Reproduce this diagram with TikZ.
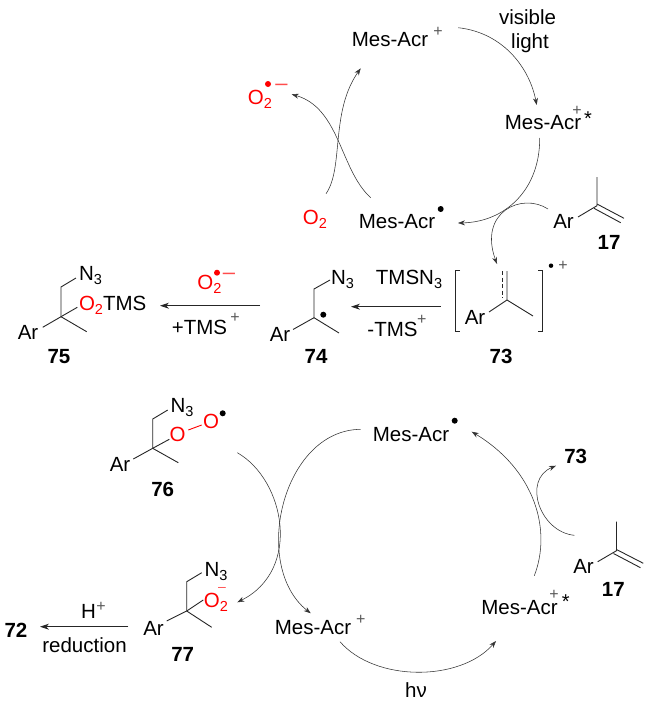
\documentclass[tikz,border=0pt]{standalone}
\usepackage{fontspec}
\setmainfont{Liberation Sans}
\usetikzlibrary{arrows.meta}
\newcommand{\subnum}[1]{\raisebox{-4.5pt}{\fontsize{14.5}{14.5}\selectfont #1}}
\tikzset{
  lbl/.style={inner sep=0pt,outer sep=0pt,text height=14.5pt,text depth=0pt,font=\fontsize{20.5}{24}\selectfont},
  redlbl/.style={lbl,text=red},
  num/.style={lbl,font=\fontsize{20.5}{24}\selectfont\bfseries},
  plusmark/.style={inner sep=0pt,outer sep=0pt,text=black!65,font=\fontsize{16}{16}\selectfont},
  starmark/.style={inner sep=0pt,outer sep=0pt,font=\fontsize{20}{20}\selectfont},
  minusmark/.style={inner sep=0pt,outer sep=0pt,text=red!70,font=\fontsize{22}{22}\selectfont},
  raddot/.style={circle,fill=black,inner sep=0pt,minimum size=6pt},
  bond/.style={draw=black!85,line width=0.9pt},
  redbond/.style={draw=red,line width=0.9pt},
  arc/.style={draw=black!80,line width=0.55pt,-{Stealth[length=7pt,width=5pt]}},
  react/.style={draw=black!85,line width=0.8pt,-{Stealth[length=9pt,width=6pt]}}
}
\begin{document}
\begin{tikzpicture}[x=1pt,y=-1pt]
\useasboundingbox (0,0) rectangle (650,704);
% ---------- top cycle labels
\node[lbl] (mesA) at (390,39) {Mes-Acr};
\node[plusmark] (mesAp) at (438,32) {+};
\node[lbl] (vis) at (527.5,17) {visible};
\node[lbl] (lgt) at (530,41) {light};
\node[lbl] (mesB) at (543,122) {Mes-Acr};
\node[plusmark] (mesBp) at (577,111) {+};
\node[starmark] (mesBs) at (588,119) {*};
\node[lbl] (mesC) at (397,221) {Mes-Acr};
\node[raddot] (mesCd) at (440.7,209) {};
\node[redlbl] (o2a) at (315,217) {O\subnum{2}};
\node[redlbl] (o2b) at (260,97) {O\subnum{2}};
\node[raddot,fill=red] (o2bd) at (268,84) {};
\node[minusmark] (o2bm) at (281.5,87) {–};
% top cycle coordinates
\coordinate (a1) at (458.3,27.7);
\coordinate (a2) at (536.7,105);
\coordinate (b1) at (539.7,138);
\coordinate (b2) at (458,223);
\coordinate (c1) at (370.7,197.7);
\coordinate (c2) at (291.7,94.3);
\coordinate (d1) at (326,193.7);
\coordinate (d2) at (360.7,68.3);
\coordinate (e1) at (548,209);
\coordinate (e2) at (497,264);
\path[arc] (a1) .. controls (505,33) and (530,70) .. (a2);
\path[arc] (b1) .. controls (540,190) and (505,222) .. (b2);
\path[arc] (c1) .. controls (340,170) and (340,108) .. (c2);
\path[arc] (d1) .. controls (344,168) and (330,112) .. (d2);
\path[arc] (e1) .. controls (522,192) and (478,212) .. (e2);
% 17 (top)
\node[lbl] (ar17a) at (563.5,221) {Ar};
\node[num] (n17a) at (609,242) {17};
\coordinate (t1) at (578,217);
\coordinate (t2) at (597,205.7);
\coordinate (t3) at (597,177);
\coordinate (t4) at (624,218.3);
\coordinate (t5) at (594,208.3);
\coordinate (t6) at (620.7,222.7);
\coordinate (t7) at (597,204);
\path[bond] (t1) -- (t2) -- (t3);
\path[bond] (t7) -- (t4);
\path[bond] (t5) -- (t6);
% 73
\coordinate (bl1) at (460,270);
\coordinate (bl2) at (455,270);
\coordinate (bl3) at (455,331);
\coordinate (bl4) at (460,331);
\coordinate (br1) at (538,270);
\coordinate (br2) at (542,270);
\coordinate (br3) at (542,331);
\coordinate (br4) at (538,331);
\path[bond] (bl1) -- (bl2) -- (bl3) -- (bl4);
\path[bond] (br1) -- (br2) -- (br3) -- (br4);
\node[raddot,minimum size=4.5pt] (r73d) at (551,265.7) {};
\node[plusmark] (r73p) at (563,266) {+};
\node[lbl] (ar73) at (475,317) {Ar};
\node[num] (n73a) at (501,356) {73};
\coordinate (s1) at (489,312);
\coordinate (s2) at (507,300);
\coordinate (s3) at (507,271);
\coordinate (s4) at (533,316);
\coordinate (s5) at (502,271);
\coordinate (s6) at (502,298);
\path[bond] (s1) -- (s2) -- (s3);
\path[bond] (s2) -- (s4);
\path[bond,dashed,dash pattern=on 4pt off 2.5pt] (s5) -- (s6);
% 73 -> 74
\node[lbl] (tmsn) at (409,277) {TMSN\subnum{3}};
\node[lbl] (tmsm) at (392.5,329) {-TMS};
\node[plusmark] (tmsmp) at (421.7,320) {+};
\coordinate (f1) at (440.7,306.7);
\coordinate (f2) at (351,306.7);
\path[react] (f1) -- (f2);
% 74
\node[lbl] (n74) at (342.5,277) {N\subnum{3}};
\node[lbl] (ar74) at (280,334) {Ar};
\node[raddot] (d74) at (323.3,314.7) {};
\node[num] (n74b) at (316,356) {74};
\coordinate (u1) at (330,280);
\coordinate (u2) at (314,289);
\coordinate (u3) at (314,317.7);
\coordinate (u4) at (339,333);
\coordinate (u5) at (293,329.5);
\path[bond] (u1) -- (u2) -- (u3) -- (u4);
\path[bond] (u3) -- (u5);
% 74 -> 75
\node[redlbl] (o2c) at (209.5,282) {O\subnum{2}};
\node[raddot,fill=red] (o2cd) at (217,272.7) {};
\node[minusmark] (o2cm) at (229,276) {–};
\node[lbl] (ptms) at (199.5,327) {+TMS};
\node[plusmark] (ptmsp) at (235,318) {+};
\coordinate (g1) at (260,305.7);
\coordinate (g2) at (160,305.7);
\path[react] (g1) -- (g2);
% 75
\node[lbl] (n75) at (90.5,273) {N\subnum{3}};
\node[lbl] (ar75) at (28,332.7) {Ar};
\node[lbl,anchor=west] (o2t) at (79,303) {\textcolor{red}{O\subnum{2}}TMS};
\node[num] (n75b) at (59,356) {75};
\coordinate (v1) at (76,278);
\coordinate (v2) at (61,287);
\coordinate (v3) at (61,316.7);
\coordinate (v4) at (86.7,331.7);
\coordinate (v5) at (42.7,327.3);
\coordinate (v6) at (77.3,307.3);
\path[bond] (v1) -- (v2) -- (v3) -- (v4);
\path[bond] (v3) -- (v5);
\path[bond] (v3) -- (v6);
% ---------- bottom
% 76
\node[lbl] (n76) at (182,405) {N\subnum{3}};
\node[lbl] (ar76) at (120,464) {Ar};
\node[redlbl] (o76a) at (177.7,434) {O};
\node[redlbl] (o76b) at (211,421.7) {O};
\node[raddot] (d76) at (222.7,413.3) {};
\node[num] (n76b) at (162.7,489) {76};
\coordinate (w1) at (167.7,410);
\coordinate (w2) at (152.7,419);
\coordinate (w3) at (152.7,448.3);
\coordinate (w4) at (178.3,462.7);
\coordinate (w5) at (133.3,459);
\coordinate (w6) at (169.3,439.3);
\coordinate (w7) at (188.3,430);
\coordinate (w8) at (201.7,425);
\path[bond] (w1) -- (w2) -- (w3) -- (w4);
\path[bond] (w3) -- (w5);
\path[bond] (w3) -- (w6);
\path[redbond] (w7) -- (w8);
% crossing arcs
\coordinate (h1) at (237.3,452.7);
\coordinate (h2) at (237.3,602.3);
\coordinate (i1) at (360.7,429.3);
\coordinate (i2) at (310.7,613.3);
\path[arc] (h1) .. controls (285,480) and (302,570) .. (h2);
\path[arc] (i1) .. controls (282,430) and (251,566) .. (i2);
% 77
\node[lbl] (n77) at (216,569) {N\subnum{3}};
\node[lbl] (ar77) at (153.5,628) {Ar};
\node[redlbl] (o77) at (216,600) {O\subnum{2}};
\node[minusmark,font=\fontsize{14}{14}\selectfont] (o77m) at (222,589) {–};
\node[num] (n77b) at (182.7,654.3) {77};
\coordinate (x1) at (201.7,572.7);
\coordinate (x2) at (186.7,581.7);
\coordinate (x3) at (186.7,611);
\coordinate (x4) at (211.7,627.3);
\coordinate (x5) at (166.7,621);
\coordinate (x6) at (203.3,600);
\path[bond] (x1) -- (x2) -- (x3) -- (x4);
\path[bond] (x3) -- (x5);
\path[bond] (x3) -- (x6);
% 77 -> 72
\node[num] (n72) at (16,630) {72};
\node[lbl] (hh) at (88.5,611) {H};
\node[plusmark] (hhp) at (101,606.7) {+};
\node[lbl] (redu) at (84.5,645.7) {reduction};
\coordinate (j1) at (128.3,626.7);
\coordinate (j2) at (40,626.7);
\path[react] (j1) -- (j2);
% bottom cycle
\node[lbl] (mesD) at (313,627) {Mes-Acr};
\node[plusmark] (mesDp) at (360.7,620) {+};
\node[lbl] (mesE) at (519.5,607) {Mes-Acr};
\node[plusmark] (mesEp) at (554,595) {+};
\node[starmark] (mesEs) at (565.7,602) {*};
\node[lbl] (mesF) at (411,434) {Mes-Acr};
\node[raddot] (mesFd) at (454.7,420.7) {};
\node[lbl] (hnu) at (416,690) {hν};
\node[num] (n73b) at (575.7,456.7) {73};
\coordinate (k1) at (340,641.7);
\coordinate (k2) at (496,641);
\coordinate (l1) at (534.3,575.7);
\coordinate (l2) at (471.7,431.7);
\coordinate (m1) at (574.3,535.3);
\coordinate (m2) at (556,465.7);
\path[arc] (k1) .. controls (375,682) and (460,682) .. (k2);
\path[arc] (l1) .. controls (552,530) and (535,470) .. (l2);
\path[arc] (m1) .. controls (540,532) and (522,480) .. (m2);
% 17 (bottom)
\node[lbl] (ar17b) at (583.5,566.7) {Ar};
\node[num] (n17b) at (613.3,589) {17};
\coordinate (q1) at (597.7,561.7);
\coordinate (q2) at (616.5,550.7);
\coordinate (q3) at (616.5,521.7);
\coordinate (q4) at (643.3,563.3);
\coordinate (q5) at (613.5,553.5);
\coordinate (q6) at (640.5,567.7);
\coordinate (q7) at (616.5,549.5);
\path[bond] (q1) -- (q2) -- (q3);
\path[bond] (q7) -- (q4);
\path[bond] (q5) -- (q6);
\end{tikzpicture}
\end{document}
